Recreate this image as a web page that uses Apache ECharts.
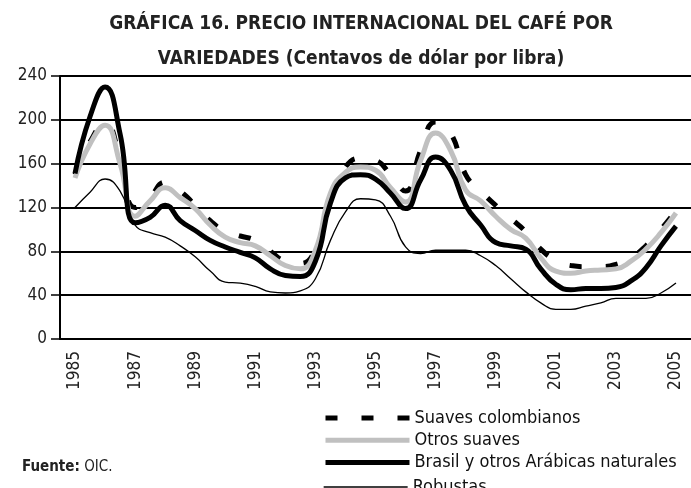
<!DOCTYPE html>
<html>
<head>
<meta charset="utf-8">
<script src="https://cdn.jsdelivr.net/npm/echarts@6/dist/echarts.min.js"></script>
<style>
html, body { margin: 0; padding: 0; background: #fff; }
#chart { width: 691px; height: 488px; }
</style>
</head>
<body>
<div id="chart"></div>
<script>
const FONT = "'Liberation Sans Narrow', 'Arial Narrow', 'DejaVu Sans Condensed', sans-serif"

// year labels for the category axis
const yearLabels = ['1985','1986','1987','1988','1989','1990','1991','1992','1993','1994','1995',
  '1996','1997','1998','1999','2000','2001','2002','2003','2004','2005']

// half-year sampling points
const years = [1985,1985.5,1986,1986.5,1987,1987.5,1988,1988.5,1989,1989.5,1990,1990.5,
  1991,1991.5,1992,1992.5,1993,1993.5,1994,1994.5,1995,1995.5,1996,1996.5,1997,1997.5,
  1998,1998.5,1999,1999.5,2000,2000.5,2001,2001.5,2002,2002.5,2003,2003.5,2004,2004.5,2005]

const suavesColombianos = [150,180,197,165,120,130,143,135,122,108,98,94,90,80,71,69,82,130,157,165,
  163,150,135,172,198,188,150,135,122,110,98,82,72,67,66,66,68,74,85,100,117]
const otrosSuaves = [147,178,195,160,112,126,138,129,119,104,93,88,85,76,67,64,81,133,152,157,
  154,138,125,163,188,172,136,126,112,100,92,74,62,60,62,63,64,71,82,97,115]
const brasil = [151,203,230,187,106,111,122,108,99,90,84,79,74,64,58,57,71,124,147,150,
  146,133,119,145,166,154,122,104,88,85,82,64,50,45,46,46,47,53,65,85,103]
const robustas = [120,134,146,135,104,97,93,85,75,62,52,51,48,43,42,44,55,90,116,128,
  127,112,84,78,81,81,81,76,67,55,43,33,27,27,30,33,37,37,37,42,51]

const seriesNames = ['Suaves colombianos', 'Otros suaves', 'Brasil y otros Arábicas naturales', 'Robustas']

const pairs = vals => years.map((y, i) => [y, vals[i]])

function line(name, vals, style) {
    return {
        name: name,
        type: 'line',
        xAxisIndex: 1,
        data: pairs(vals),
        symbol: 'none',
        smooth: true,
        itemStyle: { color: style.color },
        lineStyle: style
    }
}

function legendBox(names, top) {
    return {
        orient: 'vertical',
        left: 323,
        top: top,
        padding: 0,
        itemWidth: 84,
        itemHeight: 14,
        itemGap: 4.2,
        itemStyle: { opacity: 0 },
        lineStyle: { width: 'inherit' },
        textStyle: { fontSize: 18, fontFamily: FONT, color: '#111' },
        data: names
    }
}

var myChart = echarts.init(document.getElementById('chart'))
const option = {
    animation: false,
    title: {
        text: 'GRÁFICA 16. PRECIO INTERNACIONAL DEL CAFÉ POR\nVARIEDADES (Centavos de dólar por libra)',
        left: 356,
        top: 2,
        textAlign: 'center',
        textStyle: {
            fontFamily: FONT,
            fontWeight: 'bold',
            fontSize: 19,
            lineHeight: 35,
            color: '#222'
        }
    },
    grid: { left: 60, right: 0, top: 76, bottom: 149, containLabel: false },
    xAxis: [{
        type: 'category',
        data: yearLabels,
        boundaryGap: true,
        axisLine: { lineStyle: { color: '#000', width: 2 } },
        axisTick: { length: 8, interval: 0, lineStyle: { color: '#000', width: 1.5 } },
        axisLabel: { rotate: 90, interval: 1, fontSize: 17, margin: 12, color: '#222', fontFamily: FONT },
        splitLine: { show: false }
    }, {
        type: 'value',
        min: 1984.5,
        max: 2005.5,
        show: false
    }],
    yAxis: {
        type: 'value',
        min: 0,
        max: 240,
        interval: 40,
        axisLine: { show: true, lineStyle: { color: '#000', width: 2 } },
        axisTick: { show: true, length: 9, lineStyle: { color: '#000', width: 1.5 } },
        axisLabel: { fontSize: 17, margin: 13, color: '#222', fontFamily: FONT },
        splitLine: { lineStyle: { color: '#000', width: 2 } }
    },
    legend: [
        legendBox(seriesNames.slice(0, 3), 409),
        legendBox(seriesNames.slice(3), 478)
    ],
    graphic: [{
        type: 'text',
        left: 22,
        top: 460,
        style: {
            text: '{b|Fuente:} OIC.',
            font: '15px ' + FONT,
            fill: '#222',
            rich: { b: { fontWeight: 'bold', fontSize: 15, fontFamily: FONT, fill: '#222' } }
        }
    }],
    series: [
        line(seriesNames[0], suavesColombianos, { color: '#000', width: 5, type: [12, 24] }),
        line(seriesNames[1], otrosSuaves, { color: '#c0c0c0', width: 5 }),
        line(seriesNames[2], brasil, { color: '#000', width: 5 }),
        line(seriesNames[3], robustas, { color: '#000', width: 1.3 })
    ]
}
myChart.setOption(option)
</script>
</body>
</html>
